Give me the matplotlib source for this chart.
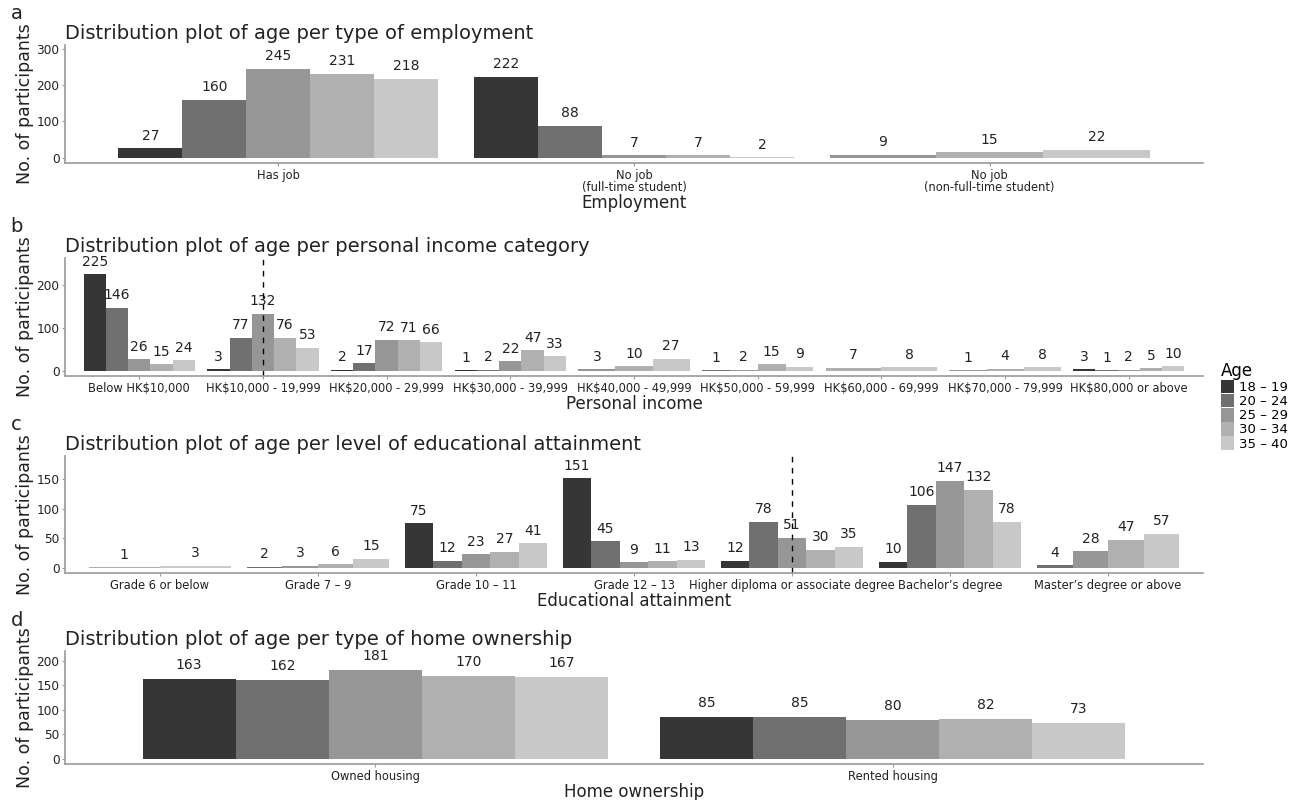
"""
plot.py

age distribution of participants by employment, income,
education and home ownership
"""
import matplotlib
matplotlib.use("Agg")
import matplotlib.pyplot as plt
from matplotlib.patches import Patch

ages = ["18 – 19", "20 – 24", "25 – 29", "30 – 34", "35 – 40"]
greys = ["#363636", "#707070", "#969696", "#b0b0b0", "#c8c8c8"]

# counts per category, one entry per age group (None = no participants)
employment = ["Has job", "No job\n(full-time student)",
              "No job\n(non-full-time student)"]
employment_counts = [
    [27, 160, 245, 231, 218],
    [222, 88, 7, 7, 2],
    [None, None, 9, 15, 22],
]

income = ["Below HK$10,000", "HK$10,000 - 19,999", "HK$20,000 - 29,999",
          "HK$30,000 - 39,999", "HK$40,000 - 49,999", "HK$50,000 - 59,999",
          "HK$60,000 - 69,999", "HK$70,000 - 79,999", "HK$80,000 or above"]
income_counts = [
    [225, 146, 26, 15, 24],
    [3, 77, 132, 76, 53],
    [2, 17, 72, 71, 66],
    [1, 2, 22, 47, 33],
    [None, None, 3, 10, 27],
    [None, 1, 2, 15, 9],
    [None, None, None, 7, 8],
    [None, None, 1, 4, 8],
    [3, 1, 2, 5, 10],
]
income_median = 2

education = ["Grade 6 or below", "Grade 7 – 9", "Grade 10 – 11",
             "Grade 12 – 13", "Higher diploma or associate degree",
             "Bachelor’s degree", "Master’s degree or above"]
education_counts = [
    [None, None, None, 1, 3],
    [None, 2, 3, 6, 15],
    [75, 12, 23, 27, 41],
    [151, 45, 9, 11, 13],
    [12, 78, 51, 30, 35],
    [10, 106, 147, 132, 78],
    [None, 4, 28, 47, 57],
]
education_median = 5

housing = ["Owned housing", "Rented housing"]
housing_counts = [
    [163, 162, 181, 170, 167],
    [85, 85, 80, 82, 73],
]

AXIS_GREY = "#9a9a9a"
TXT = "#222222"


def dodge_bars(ax, categories, counts, ylims, yticks, title, xlabel,
               letter, median=None, label_gap=4):
    """
    grouped bars where each group shares a width of 0.9, so groups with
    fewer age bands get wider bars
    """
    for i, row in enumerate(counts):
        present = [(k, v) for k, v in enumerate(row) if v is not None]
        w = 0.9 / len(present)
        for j, (k, v) in enumerate(present):
            x = (i + 1) - 0.45 + (j + 0.5) * w
            ax.bar(x, v, w, color=greys[k], linewidth=0)
            ax.annotate(str(v), xy=(x, v), xytext=(0, label_gap),
                        textcoords="offset points", ha="center",
                        va="bottom", fontsize=10, color=TXT)
    if median is not None:
        ax.axvline(median, color="black", linestyle=(0, (4, 4)), lw=1)

    n = len(categories)
    ax.set_xlim(0.4, n + 0.6)
    ax.set_ylim(*ylims)
    ax.set_xticks(range(1, n + 1))
    ax.set_xticklabels(categories, fontsize=8.3, color=TXT, linespacing=0.95)
    ax.set_yticks(yticks)
    ax.set_yticklabels([str(t) for t in yticks], fontsize=8.7, color=TXT)
    ax.tick_params(axis="both", length=2, width=0.8, color=AXIS_GREY, pad=2)
    for s in ["top", "right"]:
        ax.spines[s].set_visible(False)
    for s in ["left", "bottom"]:
        ax.spines[s].set_color(AXIS_GREY)
        ax.spines[s].set_linewidth(1.2)
    ax.set_title(title, loc="left", fontsize=14, color=TXT, pad=4)
    ax.set_xlabel(xlabel, fontsize=12, color=TXT, labelpad=0)
    ax.set_ylabel("No. of participants", fontsize=12.5, color=TXT,
                  labelpad=2)
    ax.text(-0.048, 1.27, letter, transform=ax.transAxes, fontsize=14,
            color=TXT, ha="left", va="center")


W, H = 1289, 800
fig = plt.figure(figsize=(W / 100, H / 100), dpi=100)


def axes_px(top, bottom, left=65, right=1203):
    return fig.add_axes([left / W, 1 - bottom / H, (right - left) / W,
                         (bottom - top) / H])


ax_a = axes_px(45, 163)
ax_b = axes_px(258, 376)
ax_c = axes_px(456, 573)
ax_d = axes_px(651, 764)

dodge_bars(ax_a, employment, employment_counts, (-14, 310), [0, 100, 200, 300],
           "Distribution plot of age per type of employment", "Employment", "a")
dodge_bars(ax_b, income, income_counts, (-12.5, 262.5), [0, 100, 200],
           "Distribution plot of age per personal income category",
           "Personal income", "b", median=income_median)
dodge_bars(ax_c, education, education_counts, (-9, 189), [0, 50, 100, 150],
           "Distribution plot of age per level of educational attainment",
           "Educational attainment", "c", median=education_median)
dodge_bars(ax_d, housing, housing_counts, (-10.5, 220.5),
           [0, 50, 100, 150, 200],
           "Distribution plot of age per type of home ownership",
           "Home ownership", "d", label_gap=5)

handles = [Patch(facecolor=c, edgecolor="none") for c in greys]
fig.legend(handles, ages, title="Age", loc="upper left",
           bbox_to_anchor=(1214 / W, 1 - 355 / H), frameon=False,
           fontsize=9.5, title_fontsize=12, handlelength=1.0,
           handleheight=1.2, handletextpad=0.4, labelspacing=0.0,
           borderpad=0, alignment="left")

fig.savefig("out.png", dpi=100)
